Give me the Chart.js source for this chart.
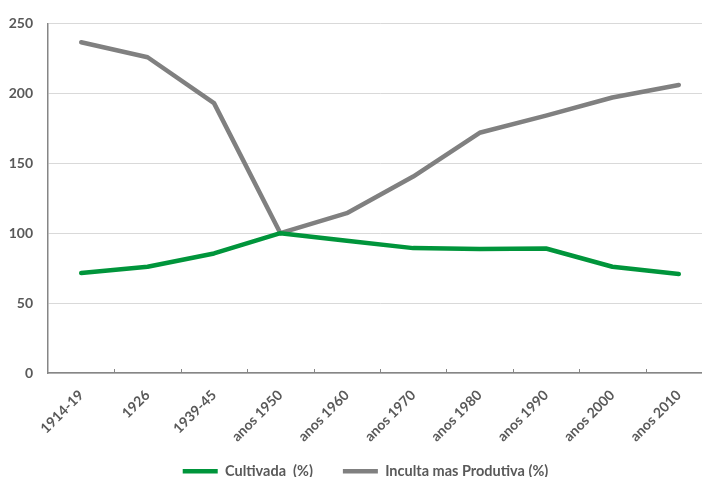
<!DOCTYPE html>
<html lang="pt">
<head>
<meta charset="utf-8">
<title>Área cultivada e inculta</title>
<script src="https://cdn.jsdelivr.net/npm/chart.js@4/dist/chart.umd.min.js"></script>
<style>
    html, body { margin: 0; padding: 0; background: #fff; overflow: hidden; width: 702px; height: 477px; }
    canvas { display: block; }
</style>
</head>
<body>
<canvas id="area-chart" width="712" height="477"></canvas>
<script>
// Períodos e índices (anos 1950 = 100)
const periodos = ["1914-19", "1926", "1939-45", "anos 1950", "anos 1960", "anos 1970", "anos 1980", "anos 1990", "anos 2000", "anos 2010"];
const cultivada = [71.5, 76, 85.5, 100, 94.5, 89.3, 88.6, 89, 76, 70.8];
const incultaProdutiva = [236.5, 225.8, 193, 100, 114.3, 140.5, 171.8, 184, 197, 206];
const yTicks = [0, 50, 100, 150, 200, 250];

(function () {
    "use strict";

    const TEXT_COLOR = "#595959";
    const AXIS_COLOR = "#868686";
    const GRID_COLOR = "#d9d9d9";
    const FONT = "Lato, 'Open Sans', sans-serif";

    // Marcas curtas do eixo X entre categorias, voltadas para cima
    const categoryTicks = {
        id: "categoryTicks",
        afterDatasetsDraw(chart) {
            const x = chart.scales.x;
            const bottom = chart.chartArea.bottom;
            const ctx = chart.ctx;
            ctx.save();
            ctx.strokeStyle = AXIS_COLOR;
            ctx.lineWidth = 1;
            ctx.beginPath();
            for (let i = 1; i < periodos.length; i++) {
                const px = Math.round((x.getPixelForValue(i - 1) + x.getPixelForValue(i)) / 2) + 0.5;
                ctx.moveTo(px, bottom);
                ctx.lineTo(px, bottom - 4);
            }
            ctx.stroke();
            ctx.restore();
        }
    };

    // Reposiciona a legenda por baixo dos rótulos do eixo X
    const legendPlacement = {
        id: "legendPlacement",
        afterLayout(chart) {
            const lg = chart.legend;
            if (!lg) return;
            const dx = 365.5 - (lg.left + lg.right) / 2;
            lg.left += dx;
            lg.right += dx;
            const dy = 434 - lg.top;
            lg.top += dy;
            lg.bottom += dy;
        }
    };

    const ctx = document.getElementById("area-chart").getContext("2d");

    new Chart(ctx, {
        type: "line",
        data: {
            labels: periodos,
            datasets: [{
                label: "Cultivada  (%)",
                data: cultivada,
                borderColor: "#00953b",
                backgroundColor: "#00953b",
                borderWidth: 4.5,
                borderCapStyle: "round",
                borderJoinStyle: "round",
                pointRadius: 0,
                tension: 0
            }, {
                label: "Inculta mas Produtiva (%)",
                data: incultaProdutiva,
                borderColor: "#808080",
                backgroundColor: "#808080",
                borderWidth: 4.5,
                borderCapStyle: "round",
                borderJoinStyle: "round",
                pointRadius: 0,
                tension: 0
            }]
        },
        options: {
            responsive: false,
            animation: false,
            layout: {
                padding: { top: 21, left: 0, right: 0, bottom: -30 }
            },
            plugins: {
                tooltip: { enabled: false },
                legend: {
                    position: "bottom",
                    labels: {
                        color: TEXT_COLOR,
                        usePointStyle: true,
                        pointStyle: "line",
                        pointStyleWidth: 35,
                        padding: 30,
                        font: { family: FONT, size: 14.5, weight: "bold" }
                    }
                }
            },
            scales: {
                x: {
                    offset: true,
                    grid: { display: false, drawTicks: false },
                    border: { display: true, color: AXIS_COLOR, width: 1.5 },
                    ticks: {
                        color: TEXT_COLOR,
                        maxRotation: 45,
                        minRotation: 45,
                        padding: 14,
                        font: { family: FONT, size: 14, weight: "bold" }
                    },
                    afterFit(scale) {
                        scale.height = 79.5;
                    }
                },
                y: {
                    min: 0,
                    max: 250,
                    afterBuildTicks(scale) {
                        scale.ticks = yTicks.map(v => ({ value: v }));
                    },
                    grid: { color: GRID_COLOR, lineWidth: 1, drawTicks: false },
                    border: { display: true, color: AXIS_COLOR, width: 1.5 },
                    ticks: {
                        color: TEXT_COLOR,
                        padding: 15,
                        font: { family: FONT, size: 14, weight: "bold" }
                    },
                    afterFit(scale) {
                        scale.width = 48;
                    }
                }
            }
        },
        plugins: [categoryTicks, legendPlacement]
    });
})();
</script>
</body>
</html>
